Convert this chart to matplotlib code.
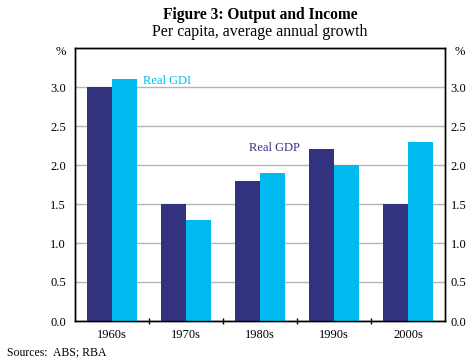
import numpy as np
import matplotlib
matplotlib.use('Agg')
import matplotlib.pyplot as plt

decades = ['1960s', '1970s', '1980s', '1990s', '2000s']
real_gdp = [3.0, 1.5, 1.8, 2.2, 1.5]
real_gdi = [3.1, 1.3, 1.9, 2.0, 2.3]
yticks = [0.0, 0.5, 1.0, 1.5, 2.0, 2.5, 3.0, 3.5]

navy = '#32327f'
cyan = '#00b9f1'

plt.rcParams['font.family'] = ['Liberation Serif', 'DejaVu Serif']

fig = plt.figure(figsize=(4.73, 3.63), dpi=100)
ax = fig.add_axes([75/473, 1 - 321/363, 370/473, 273/363])

x = np.arange(len(decades))
w = 0.34
ax.bar(x - w/2, real_gdp, w, color=navy, zorder=3)
ax.bar(x + w/2, real_gdi, w, color=cyan, zorder=3)

ylabels = ['%.1f' % v for v in yticks[:-1]] + ['']
ax.set_xlim(-0.5, len(decades) - 0.5)
ax.set_ylim(0, 3.5)
ax.set_yticks(yticks)
ax.set_yticklabels(ylabels)
ax.yaxis.grid(True, color='#b4b4b4', linewidth=1, zorder=0)
ax.tick_params(axis='y', length=0, labelsize=9, pad=6.5)

# right-hand axis labels sit closer to the frame
ax2 = ax.twinx()
ax2.set_ylim(0, 3.5)
ax2.set_yticks(yticks)
ax2.set_yticklabels(ylabels)
ax2.tick_params(axis='y', length=0, labelsize=9, pad=4)

ax.set_xticks(x)
ax.set_xticklabels(decades)
ax.tick_params(axis='x', which='major', length=0, labelsize=9, pad=6)
ax.set_xticks(x[:-1] + 0.5, minor=True)
ax.tick_params(axis='x', which='minor', length=4, direction='inout', width=1)

for a in (ax, ax2):
    for s in a.spines.values():
        s.set_linewidth(1)
        s.set_color('black')

ax.text(-0.025, 3.45, '%', transform=ax.get_yaxis_transform(), ha='right', va='center', fontsize=9)
ax.text(1.025, 3.45, '%', transform=ax.get_yaxis_transform(), ha='left', va='center', fontsize=9)

ax.text(0.42, 3.08, 'Real GDI', color=cyan, fontsize=9, va='center', ha='left')
ax.text(2.54, 2.22, 'Real GDP', color=navy, fontsize=9, va='center', ha='right')

tx = (75 + 370/2) / 473
fig.text(tx, 1 - 15/363, 'Figure 3: Output and Income', ha='center', va='center',
         fontsize=11.2, fontweight='bold')
fig.text(tx, 1 - 32/363, 'Per capita, average annual growth', ha='center', va='center',
         fontsize=11.4)
fig.text(7/473, 1 - 352/363, 'Sources:  ABS; RBA', ha='left', va='center', fontsize=8.5)

fig.savefig('out.png', dpi=100)
